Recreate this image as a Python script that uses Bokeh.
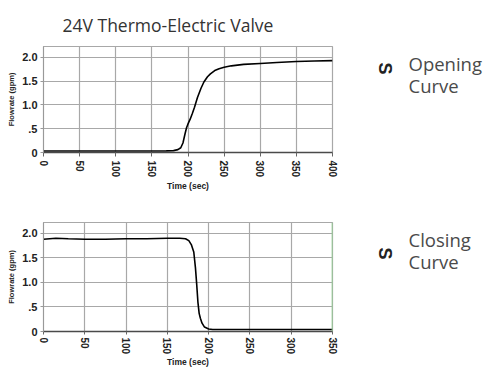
import math
from bokeh.plotting import figure
from bokeh.models import Range1d, Label, Span, FixedTicker
from bokeh.layouts import column, row
from bokeh.embed import file_html
from bokeh.resources import INLINE

# ---------------- data ----------------
title_text = "24V Thermo-Electric Valve"
open_t = [0, 50, 100, 150, 170, 180, 186, 190, 193, 196, 198, 200, 203, 206, 209,
          213, 218, 222, 227, 231, 237, 243, 250, 260, 277, 300, 323, 350, 375, 400]
open_q = [0.03, 0.03, 0.03, 0.03, 0.035, 0.04, 0.06, 0.10, 0.20, 0.40, 0.52, 0.60, 0.70, 0.82, 0.95,
          1.15, 1.35, 1.48, 1.59, 1.65, 1.72, 1.76, 1.79, 1.82, 1.85, 1.87, 1.89, 1.91, 1.92, 1.93]
close_t = [0, 15, 30, 50, 75, 100, 125, 150, 165, 172, 176, 179, 182, 184, 185.5,
           187, 188.5, 190, 192, 195, 200, 205, 250, 300, 350]
close_q = [1.88, 1.90, 1.89, 1.88, 1.88, 1.89, 1.89, 1.90, 1.90, 1.89, 1.85, 1.77, 1.62, 1.30, 0.97,
           0.60, 0.37, 0.27, 0.17, 0.09, 0.05, 0.04, 0.04, 0.04, 0.04]
open_xticks = [0, 50, 100, 150, 200, 250, 300, 350, 400]
close_xticks = [0, 50, 100, 150, 200, 250, 300, 350]
yticks = [0, 0.5, 1.0, 1.5, 2.0]
ytick_labels = ["0", ".5", "1.0", "1.5", "2.0"]
open_lines = ["Opening", "Curve"]
close_lines = ["Closing", "Curve"]

TXT = "Open Sans"
AX = "Liberation Sans"


def make_fig(height, xmax, ymax, xticks, border_top, border_bottom, tick_out, label_standoff, axlabel_standoff):
    p = figure(width=338, height=height, x_range=Range1d(0, xmax), y_range=Range1d(0, ymax),
               output_backend="svg", toolbar_location=None,
               min_border_left=43, min_border_right=6,
               min_border_top=border_top, min_border_bottom=border_bottom)
    p.background_fill_color = "white"
    p.border_fill_color = "white"
    p.outline_line_color = "#a8a8a8"
    p.outline_line_width = 1.2
    p.xaxis.ticker = FixedTicker(ticks=xticks)
    p.yaxis.ticker = FixedTicker(ticks=yticks)
    p.yaxis.major_label_overrides = {t: l for t, l in zip(yticks, ytick_labels)}
    for ax in (p.xaxis, p.yaxis):
        ax.minor_tick_line_color = None
        ax.major_tick_in = 0
        ax.major_label_text_font = AX
        ax.major_label_text_font_style = "bold"
        ax.major_label_text_color = "#222222"
        ax.axis_label_text_font = AX
        ax.axis_label_text_font_style = "bold"
        ax.axis_label_text_color = "#222222"
    p.xaxis.major_tick_out = tick_out
    p.xaxis.major_label_standoff = label_standoff
    p.xaxis.major_label_orientation = -math.pi / 2
    p.xaxis.major_label_text_font_size = "10px"
    p.xaxis.axis_line_color = "#4a4a4a"
    p.xaxis.axis_line_width = 1.6
    p.xaxis.major_tick_line_color = "#666666"
    p.xaxis.axis_label = "Time (sec)"
    p.xaxis.axis_label_text_font_size = "8.5px"
    p.xaxis.axis_label_standoff = axlabel_standoff
    p.yaxis.major_tick_out = 3
    p.yaxis.major_label_standoff = 3
    p.yaxis.major_label_text_font_size = "11px"
    p.yaxis.axis_line_color = "#999999"
    p.yaxis.major_tick_line_color = "#999999"
    p.yaxis.axis_label = "Flowrate (gpm)"
    p.yaxis.axis_label_text_font_size = "7.5px"
    p.yaxis.axis_label_standoff = 3
    p.xgrid.grid_line_color = "#a8a8a8"
    p.ygrid.grid_line_color = "#a8a8a8"
    p.xgrid.grid_line_width = 1.2
    p.ygrid.grid_line_width = 1.2
    return p


def side_fig(height, lines, y_first, y_s):
    # frame of this figure is aligned with the chart frame next to it
    s = figure(width=145, height=height, x_range=Range1d(0, 1), y_range=Range1d(0, 1),
               x_axis_type=None, y_axis_type=None, output_backend="svg", toolbar_location=None,
               min_border=0)
    s.outline_line_color = None
    s.grid.visible = False
    s.add_layout(Label(x=46, y=y_s, x_units="screen", y_units="screen", text="S",
                       angle=-math.pi / 2, text_font=AX, text_font_style="bold",
                       text_font_size="18px", text_color="#222222",
                       text_align="center", text_baseline="middle"))
    for i, line in enumerate(lines):
        s.add_layout(Label(x=70, y=y_first - 22 * i, x_units="screen", y_units="screen", text=line,
                           text_font=TXT, text_font_size="18.5px", text_color="#4a4a4a",
                           text_baseline="alphabetic"))
    return s


# top chart
p1 = make_fig(194, 400, 2.226, open_xticks, 43, 40, 4, 4, 1)
p1.title.text = title_text
p1.title.text_font = TXT
p1.title.text_font_size = "17.5px"
p1.title.text_font_style = "normal"
p1.title.text_color = "#333333"
p1.title.align = "left"
p1.title.offset = 19
p1.title.standoff = 20
p1.line(open_t, open_q, line_color="black", line_width=1.6)
s1 = side_fig(194, open_lines, 89, 84)

# bottom chart
p2 = make_fig(176, 350, 2.22, close_xticks, 28, 37, 3, 3, 0)
p2.line(close_t, close_q, line_color="black", line_width=1.6)
p2.add_layout(Span(location=close_xticks[-1], dimension="height", line_color="#8fd48f", line_width=1.6))
s2 = side_fig(176, close_lines, 92, 78)

layout = column(row(p1, s1, spacing=0), row(p2, s2, spacing=0), spacing=0)
open("out.html", "w").write(file_html(layout, INLINE))
